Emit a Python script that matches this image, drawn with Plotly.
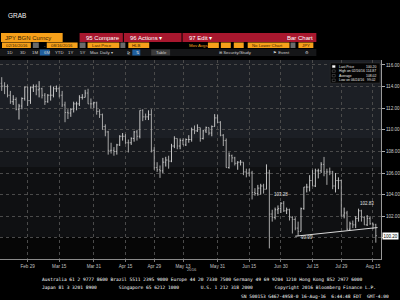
import plotly.graph_objects as go

# ---------------- data (USDJPY daily bars) ----------------
dates = ["2016-02-16","2016-02-17","2016-02-18","2016-02-19","2016-02-22","2016-02-23","2016-02-24","2016-02-25","2016-02-26","2016-02-29",
"2016-03-01","2016-03-02","2016-03-03","2016-03-04","2016-03-07","2016-03-08","2016-03-09","2016-03-10","2016-03-11","2016-03-14",
"2016-03-15","2016-03-16","2016-03-17","2016-03-18","2016-03-21","2016-03-22","2016-03-23","2016-03-24","2016-03-25","2016-03-28",
"2016-03-29","2016-03-30","2016-03-31","2016-04-01","2016-04-04","2016-04-05","2016-04-06","2016-04-07","2016-04-08","2016-04-11",
"2016-04-12","2016-04-13","2016-04-14","2016-04-15","2016-04-18","2016-04-19","2016-04-20","2016-04-21","2016-04-22","2016-04-25",
"2016-04-26","2016-04-27","2016-04-28","2016-04-29","2016-05-02","2016-05-03","2016-05-04","2016-05-05","2016-05-06","2016-05-09",
"2016-05-10","2016-05-11","2016-05-12","2016-05-13","2016-05-16","2016-05-17","2016-05-18","2016-05-19","2016-05-20","2016-05-23",
"2016-05-24","2016-05-25","2016-05-26","2016-05-27","2016-05-30","2016-05-31","2016-06-01","2016-06-02","2016-06-03","2016-06-06",
"2016-06-07","2016-06-08","2016-06-09","2016-06-10","2016-06-13","2016-06-14","2016-06-15","2016-06-16","2016-06-17","2016-06-20",
"2016-06-21","2016-06-22","2016-06-23","2016-06-24","2016-06-27","2016-06-28","2016-06-29","2016-06-30","2016-07-01","2016-07-04",
"2016-07-05","2016-07-06","2016-07-07","2016-07-08","2016-07-11","2016-07-12","2016-07-13","2016-07-14","2016-07-15","2016-07-18",
"2016-07-19","2016-07-20","2016-07-21","2016-07-22","2016-07-25","2016-07-26","2016-07-27","2016-07-28","2016-07-29","2016-08-01",
"2016-08-02","2016-08-03","2016-08-04","2016-08-05","2016-08-08","2016-08-09","2016-08-10","2016-08-11","2016-08-12","2016-08-15",
"2016-08-16"]

opens = [114.30,114.05,114.00,113.20,112.60,112.80,111.90,112.20,112.90,113.95,
112.70,113.90,114.00,113.70,113.80,113.20,112.60,113.20,113.20,113.80,
113.80,113.20,112.30,111.60,111.55,111.90,112.40,112.40,113.00,113.00,
113.40,112.40,112.40,112.50,111.70,111.40,110.30,109.80,108.10,108.10,
108.00,108.60,109.40,109.40,108.80,108.80,109.20,109.80,109.40,111.80,
111.20,111.20,111.40,108.10,106.50,106.30,106.20,107.00,107.20,107.10,
108.50,109.20,108.50,109.00,108.60,109.10,109.10,110.00,109.90,110.20,
109.20,109.90,110.20,109.70,110.30,111.10,110.70,109.50,109.00,106.50,
107.60,107.40,106.90,107.00,107.00,106.10,106.00,106.00,104.20,104.10,
104.60,104.80,104.50,106.00,102.20,101.90,102.60,102.70,103.20,102.50,
102.60,101.90,101.70,100.90,100.60,102.70,104.70,104.70,105.30,104.80,
106.20,106.20,106.80,106.10,106.10,106.10,104.80,105.30,105.30,102.10,
102.30,100.80,101.30,101.20,101.80,102.50,101.90,101.20,101.80,101.30,
101.20]

highs = [114.87,114.40,114.20,113.60,113.20,113.00,112.40,113.00,114.00,114.00,
114.00,114.20,114.20,114.50,113.90,113.40,113.30,114.10,114.00,114.10,
114.00,113.60,112.60,111.90,112.00,112.60,112.60,113.20,113.30,113.70,
113.80,112.90,112.60,112.60,111.90,111.50,110.50,109.90,108.80,108.40,
108.70,109.50,109.70,109.60,109.10,109.30,109.90,110.00,111.80,111.90,
111.50,111.80,111.90,108.40,107.00,106.70,107.40,107.50,107.60,108.70,
109.40,109.20,109.20,109.20,109.20,109.50,110.20,110.40,110.50,110.20,
110.00,110.30,110.20,110.40,111.45,111.40,110.80,109.60,109.20,107.90,
107.70,107.50,107.10,107.20,107.00,106.40,106.40,106.20,104.60,104.90,
105.00,105.00,106.80,106.30,102.60,102.80,103.00,103.30,103.40,102.80,
102.70,102.00,101.90,101.50,102.80,104.70,105.00,105.80,106.30,106.40,
106.40,107.00,107.49,106.40,106.50,106.20,106.00,105.60,105.40,102.80,
102.50,101.50,101.60,102.00,102.70,102.60,102.00,102.10,102.00,101.40,
101.30]

lows = [113.60,113.30,113.00,112.40,112.30,111.80,110.95,111.90,112.70,112.20,
112.40,113.50,113.20,113.00,112.90,112.30,112.50,112.70,113.00,113.50,
113.00,112.10,110.70,111.00,111.20,111.60,111.80,112.20,112.80,113.00,
112.40,112.00,112.00,111.40,111.10,110.00,109.40,107.70,107.80,107.60,
107.70,108.50,109.00,108.70,107.90,108.60,108.90,109.00,109.20,110.80,
110.90,110.90,107.90,106.30,106.10,105.55,106.00,106.60,106.40,107.00,
108.30,108.20,108.20,108.60,108.50,108.80,108.90,109.60,109.80,108.90,
109.10,109.70,109.50,109.40,110.30,110.60,109.40,108.50,106.50,106.40,
107.00,106.70,106.30,106.70,105.80,105.60,105.70,103.55,103.90,103.90,
104.00,104.10,104.50,99.02,101.50,101.70,102.20,102.30,102.40,102.20,
101.60,100.40,100.70,100.20,100.60,102.60,104.20,104.30,104.80,104.70,
105.50,106.00,105.70,104.90,105.80,104.50,104.20,104.50,101.95,101.80,
100.70,100.70,100.90,100.90,101.50,101.50,101.20,101.10,101.20,100.80,
99.55]

closes = [114.05,114.00,113.20,112.60,112.80,111.90,112.20,112.90,113.95,112.70,
113.90,114.00,113.70,113.80,113.20,112.60,113.20,113.20,113.80,113.80,
113.20,112.30,111.60,111.55,111.90,112.40,112.40,113.00,113.00,113.40,
112.40,112.40,112.50,111.70,111.40,110.30,109.80,108.10,108.10,108.00,
108.60,109.40,109.40,108.80,108.80,109.20,109.80,109.40,111.80,111.20,
111.20,111.40,108.10,106.50,106.30,106.20,107.00,107.20,107.10,108.50,
109.20,108.50,109.00,108.60,109.10,109.10,110.00,109.90,110.20,109.20,
109.90,110.20,109.70,110.30,111.10,110.70,109.50,109.00,106.50,107.60,
107.40,106.90,107.00,107.00,106.10,106.00,106.00,104.20,104.10,104.60,
104.80,104.50,106.00,102.20,101.90,102.60,102.70,103.20,102.50,102.60,
101.90,101.70,100.90,100.60,102.70,104.70,104.70,105.30,104.80,106.20,
106.20,106.80,106.10,106.10,106.10,104.80,105.30,105.30,102.10,102.30,
100.80,101.30,101.20,101.80,102.50,101.90,101.20,101.80,101.30,101.20,
100.20]

tick_dates = ["2016-02-29","2016-03-15","2016-03-31","2016-04-15","2016-04-29","2016-05-13",
              "2016-05-31","2016-06-15","2016-06-30","2016-07-15","2016-07-29","2016-08-15"]
tick_labels = ["Feb 29","Mar 15","Mar 31","Apr 15","Apr 29","May 13",
               "May 31","Jun 15","Jun 30","Jul 15","Jul 29","Aug 15"]
y_ticks = [98,100,102,104,106,108,110,112,114,116]

last_price = closes[-1]
high_val, high_date = 114.87, "02/16/16"
low_val, low_date = 99.02, "06/24/16"
avg_val = sum(closes) / len(closes)

# support line end points (dates, values)
trend_dates = ["2016-07-07", "2016-08-16"]
trend_vals = [100.15, 100.95]
price_notes = [("2016-06-30", 104.0, "103.28"), ("2016-08-11", 103.2, "102.83"), ("2016-07-13", 100.0, "99.99")]

# ---------------- figure ----------------
W_PLOT, TOP, BOT = 383.0, 60.0, 259.0
def px(x):
    return x / W_PLOT
def py(y):
    return (BOT - y) / (BOT - TOP)

fig = go.Figure()
fig.add_trace(go.Ohlc(x=dates, open=opens, high=highs, low=lows, close=closes,
                      increasing=dict(line=dict(color="#c4c4c4", width=1)),
                      decreasing=dict(line=dict(color="#a8a8a8", width=1)),
                      tickwidth=0.35, hoverinfo="skip", showlegend=False))

shapes = []
ann = []

# plot background bands (gradient-like)
for y0, y1, c in [(60, 138, "#1c1f25"), (138, 167, "#16181c"), (167, 237, "#0f1012"), (237, 259, "#060606")]:
    shapes.append(dict(type="rect", xref="paper", yref="paper", x0=0, x1=1, y0=py(y1), y1=py(y0),
                       fillcolor=c, line_width=0, layer="below"))

# support line
idx = {d: i for i, d in enumerate(dates)}
shapes.append(dict(type="line", xref="x", yref="y", x0=idx[trend_dates[0]], x1=idx[trend_dates[1]] + 0.6,
                   y0=trend_vals[0], y1=trend_vals[1], line=dict(color="#d8d8d8", width=1)))
for d, v, t in price_notes:
    ann.append(dict(x=idx[d], y=v, xref="x", yref="y", text=t, showarrow=False,
                    font=dict(size=4.5, color="#e0e0e0", family="Liberation Sans")))

# legend box
shapes.append(dict(type="rect", xref="paper", yref="paper", x0=px(332), x1=px(382), y0=py(83), y1=py(63),
                   fillcolor="#050505", line=dict(color="#3a3a3a", width=0.5)))
leg_rows = [("Last Price", f"{last_price:.2f}"), (f"High on {high_date}", f"{high_val:.2f}"),
            ("Average", f"{avg_val:.2f}"), (f"Low on {low_date}", f"{low_val:.2f}")]
for k, (lab, val) in enumerate(leg_rows):
    yy = 66.5 + k * 4.6
    shapes.append(dict(type="rect", xref="paper", yref="paper", x0=px(334), x1=px(337), y0=py(yy + 1.2), y1=py(yy - 1.2),
                       fillcolor="#ffffff" if k == 0 else "#000", line=dict(color="#aaaaaa", width=0.3)))
    ann.append(dict(x=px(338.5), y=py(yy), xref="paper", yref="paper", text=lab, showarrow=False, xanchor="left",
                    yanchor="middle", font=dict(size=3.4, color="#e8e8e8", family="Liberation Sans")))
    ann.append(dict(x=px(380), y=py(yy), xref="paper", yref="paper", text=val, showarrow=False, xanchor="right",
                    yanchor="middle", font=dict(size=3.4, color="#e8e8e8", family="Liberation Sans")))

# last price box on axis
ann.append(dict(x=px(384), y=last_price, xref="paper", yref="y", text=f"{last_price:.2f}", showarrow=False,
                xanchor="left", yanchor="middle", bgcolor="#ffffff", borderpad=0.5,
                font=dict(size=4.5, color="#000000", family="Liberation Sans")))

# year label
ann.append(dict(x=px(193), y=py(273.5), xref="paper", yref="paper", text="2016", showarrow=False,
                font=dict(size=4.2, color="#bbbbbb", family="Liberation Sans")))

# ---------------- header ----------------
ORANGE = "#f6a01a"
RED = "#a8172e"
def box(x0, x1, y0, y1, c):
    shapes.append(dict(type="rect", xref="paper", yref="paper", x0=px(x0), x1=px(x1), y0=py(y1), y1=py(y0),
                       fillcolor=c, line_width=0))
def txt(x, y, t, size=5.5, color="#ffffff", anchor="left", fam="Liberation Sans"):
    ann.append(dict(x=px(x), y=py(y), xref="paper", yref="paper", text=t, showarrow=False, xanchor=anchor,
                    yanchor="middle", font=dict(size=size, color=color, family=fam)))

txt(6, 15, "GRAB", size=6.5, color="#f0f0f0")
# row 1
box(1, 63, 33, 42, ORANGE); txt(3, 37.5, "JPY BGN Curncy", size=6, color="#3a2000")
box(80, 123.5, 33, 42, RED); txt(84, 37.5, "95 Compare", size=6)
box(124.5, 182.5, 33, 42, RED); txt(129, 37.5, "96 Actions ▾", size=6)
box(183.5, 318, 33, 42, RED); txt(188, 37.5, "97 Edit ▾", size=6); txt(317, 37.5, "Bar Chart", size=6, anchor="right")
# row 2
for x0, x1, t in [(2, 31, "02/16/2016"), (47, 78, "08/16/2016"), (88, 120, "Last Price"), (129, 150, "HLB"),
                  (209, 220, ""), (222, 232, ""), (235, 245, ""), (249, 291, "No Lower Chart"), (300, 315, "JPY")]:
    box(x0, x1, 42.5, 48, ORANGE)
    if t:
        txt(x0 + 2, 45.3, t, size=4.3, color="#3a2000")
for x0, x1 in [(33, 39), (80, 86), (121, 126), (292, 297)]:
    box(x0, x1, 42.5, 48, "#6a6a6a")
txt(42, 45.3, "-", size=4.3, color="#cccccc")
txt(188, 45.3, "Mov Avgs", size=4.3, color=ORANGE)
# row 3
box(0, 318, 49, 56, "#151618")
box(40, 50, 49.5, 55.5, "#1f5f9f")
box(133, 141, 49.5, 55.5, "#1f5f9f")
box(152, 171, 49.5, 55.5, "#3a3a3a")
for x, t in [(5, "1D"), (18, "3D"), (30, "1M"), (42, "6M"), (53, "YTD"), (66, "1Y"), (78, "5Y"), (88, "Max"),
             (99, "Daily ▾"), (126, "⊵"), (135, "⇅"), (155, "Table"), (218, "⊞ Security/Study"), (272, "⚑ Event"), (305, "⚙")]:
    txt(x, 52.5, t, size=4.3, color="#d0d0d0")

# ---------------- footer ----------------
MONO = "DejaVu Sans Mono"
txt(40, 279, "Australia 61 2 9777 8600 Brazil 5511 2395 9000 Europe 44 20 7330 7500 Germany 49 69 9204 1210 Hong Kong 852 2977 6000",
    size=4.55, color="#ffffff", fam=MONO)
txt(40, 287.5, "Japan 81 3 3201 8900        Singapore 65 6212 1000        U.S. 1 212 318 2000        Copyright 2016 Bloomberg Finance L.P.",
    size=4.55, color="#ffffff", fam=MONO)
txt(393, 296, "SN 500153 G467-4958-0 16-Aug-16  6:44:48 EDT  GMT-4:00", size=4.55, color="#ffffff", anchor="right", fam=MONO)

fig.update_layout(
    width=400, height=300, margin=dict(l=0, r=17, t=60, b=41),
    paper_bgcolor="#000000", plot_bgcolor="rgba(0,0,0,0)",
    shapes=shapes, annotations=ann, showlegend=False,
    xaxis=dict(type="category", range=[-0.6, len(dates) + 0.8], rangeslider=dict(visible=False),
               tickmode="array", tickvals=tick_dates, ticktext=tick_labels,
               tickfont=dict(size=4.6, color="#c0c0c0", family="Liberation Sans"),
               showgrid=True, gridcolor="#4a4a4a", griddash="dot", gridwidth=1,
               ticks="outside", ticklen=2, tickcolor="#777777",
               showline=True, linecolor="#8a8a8a", linewidth=1, zeroline=False),
    yaxis=dict(side="right", range=[98.04, 116.46], tickmode="array", tickvals=y_ticks,
               ticktext=["" if v == 100 else f"{v:.2f}" for v in y_ticks],
               tickfont=dict(size=4.6, color="#d0d0d0", family="Liberation Sans"),
               showgrid=True, gridcolor="#4a4a4a", griddash="dot", gridwidth=1,
               ticks="outside", ticklen=3, tickcolor="#aaaaaa",
               showline=True, linecolor="#9a9a9a", linewidth=1, zeroline=False),
)

fig.write_html("out.html")
